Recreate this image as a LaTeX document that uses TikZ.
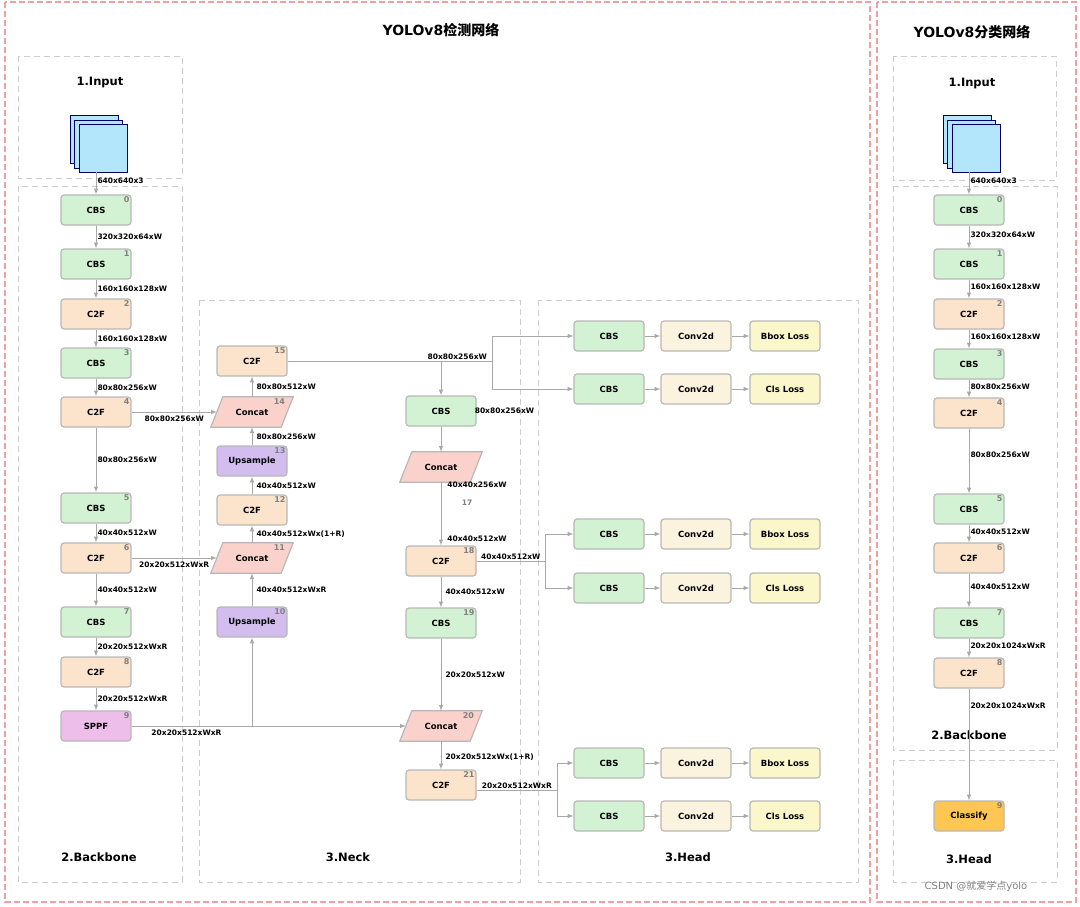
\documentclass[tikz,border=0pt]{standalone}
\usepackage{fontspec}
\setmainfont{DejaVu Sans}
\newfontfamily\cjk{Noto Sans CJK SC}
\usetikzlibrary{positioning,backgrounds}
\definecolor{cbsc}{HTML}{D3F2D3}
\definecolor{c2fc}{HTML}{FCE3CC}
\definecolor{catc}{HTML}{FAD2CB}
\definecolor{upc}{HTML}{D3BDEE}
\definecolor{sppfc}{HTML}{EEBEEA}
\definecolor{convc}{HTML}{FBF3DE}
\definecolor{lossc}{HTML}{FBF7CB}
\definecolor{clsc}{HTML}{FFC654}
\definecolor{bordc}{HTML}{B8B8B8}
\definecolor{arrc}{HTML}{A8A8A8}
\definecolor{redd}{HTML}{F0A0A0}
\tikzset{
  blk/.style={draw=bordc, line width=1.2pt, rounded corners=3pt, minimum width=70pt, minimum height=30pt, font=\fontsize{8.5}{10}\selectfont\bfseries},
  cbs/.style={blk, fill=cbsc},
  c2f/.style={blk, fill=c2fc},
  ups/.style={blk, fill=upc},
  sppf/.style={blk, fill=sppfc},
  conv/.style={blk, fill=convc},
  loss/.style={blk, fill=lossc},
  cls/.style={blk, fill=clsc},
  cat/.style={minimum width=70pt, minimum height=30pt, font=\fontsize{8.5}{10}\selectfont\bfseries},
  idx/.style={label={[anchor=north east, inner sep=2pt, text=gray, font=\fontsize{8}{9}\selectfont\bfseries]north east:#1}},
  lbl/.style={font=\fontsize{7.5}{9}\selectfont\bfseries, inner sep=1pt},
  arr/.style={draw=arrc, line width=1pt, -latex},
  ln/.style={draw=arrc, line width=1pt},
  frame/.style={draw=black!20, dashed, line width=1pt, dash pattern=on 6pt off 4pt},
  rframe/.style={draw=redd, line width=1.2pt, dash pattern=on 6pt off 3pt},
  sec/.style={font=\fontsize{11.5}{13}\selectfont\bfseries},
  img/.style={draw=blue!40!black, fill=cyan!30, minimum size=48pt, inner sep=0pt},
}
\begin{document}
\begin{tikzpicture}[x=1pt,y=-1pt]
\useasboundingbox (0,0) rectangle (1080,906);

%frames
\draw[rframe] (5,2) rectangle (870,902);
\draw[rframe] (877,2) rectangle (1076,902);
\draw[frame] (18,56) rectangle (182,178);
\draw[frame] (18,186) rectangle (182,882);
\draw[frame] (199,300) rectangle (520,882);
\draw[frame] (538,300) rectangle (858,882);
\draw[frame] (893,56) rectangle (1056,180);
\draw[frame] (893,186) rectangle (1057,750);
\draw[frame] (893,760) rectangle (1057,882);

%titles
\node[font=\fontsize{14}{16}\selectfont\bfseries] at (441,30) {YOLOv8{\cjk 检测网络}};
\node[font=\fontsize{14}{16}\selectfont\bfseries] at (972,32) {YOLOv8{\cjk 分类网络}};
\node[sec] at (100,82) {1.Input};
\node[sec] at (99,857) {2.Backbone};
\node[sec] at (348,857) {3.Neck};
\node[sec] at (688,857) {3.Head};
\node[sec] at (972,83) {1.Input};
\node[sec] at (969,735) {2.Backbone};
\node[sec] at (969,859) {3.Head};
\node[text=gray, font=\fontsize{10}{12}\selectfont] at (976,886) {CSDN @{\cjk 就爱学点}yolo};

%input images
\node[img] (in1) at (94,139) {};
\node[img] (in2) at (98,144) {};
\node[img] (in3) at (103,148) {};
\node[img] (rin1) at (967,139) {};
\node[img] (rin2) at (971,144) {};
\node[img] (rin3) at (976,148) {};

%backbone
\node[cbs,idx=0] (b0) at (96,210) {CBS};
\node[cbs,idx=1] (b1) at (96,264) {CBS};
\node[c2f,idx=2] (b2) at (96,314) {C2F};
\node[cbs,idx=3] (b3) at (96,363) {CBS};
\node[c2f,idx=4] (b4) at (96,412) {C2F};
\node[cbs,idx=5] (b5) at (96,508) {CBS};
\node[c2f,idx=6] (b6) at (96,558) {C2F};
\node[cbs,idx=7] (b7) at (96,622) {CBS};
\node[c2f,idx=8] (b8) at (96,672) {C2F};
\node[sppf,idx=9] (b9) at (96,726) {SPPF};

%neck
\node[c2f,idx=15] (n15) at (252,361) {C2F};
\node[cat,idx=14] (n14) at (252,412) {Concat};
\node[ups,idx=13] (n13) at (252,461) {Upsample};
\node[c2f,idx=12] (n12) at (252,510) {C2F};
\node[cat,idx=11] (n11) at (252,558) {Concat};
\node[ups,idx=10] (n10) at (252,622) {Upsample};
\node[cbs] (n16) at (441,411) {CBS};
\node[cat] (n17) at (441,467) {Concat};
\node[c2f,idx=18] (n18) at (441,561) {C2F};
\node[cbs,idx=19] (n19) at (441,623) {CBS};
\node[cat,idx=20] (n20) at (441,726) {Concat};
\node[c2f,idx=21] (n21) at (441,785) {C2F};
\begin{scope}[on background layer]
\foreach \n in {n11,n14,n17,n20}
  \draw[draw=bordc, line width=1.2pt, fill=catc] ([xshift=6pt]\n.north west) -- ([xshift=6pt]\n.north east) -- ([xshift=-6pt]\n.south east) -- ([xshift=-6pt]\n.south west) -- cycle;
\end{scope}

%head
\foreach \r/\y/\t in {1/336/Bbox Loss,2/389/Cls Loss,3/534/Bbox Loss,4/588/Cls Loss,5/763/Bbox Loss,6/816/Cls Loss}{
  \node[cbs] (h\r a) at (609,\y) {CBS};
  \node[conv] (h\r b) at (696,\y) {Conv2d};
  \node[loss] (h\r c) at (785,\y) {\t};
  \draw[arr] (h\r a) -- (h\r b);
  \draw[arr] (h\r b) -- (h\r c);
}

%classification net
\node[cbs,idx=0] (r0) at (969,210) {CBS};
\node[cbs,idx=1] (r1) at (969,264) {CBS};
\node[c2f,idx=2] (r2) at (969,314) {C2F};
\node[cbs,idx=3] (r3) at (969,364) {CBS};
\node[c2f,idx=4] (r4) at (969,413) {C2F};
\node[cbs,idx=5] (r5) at (969,509) {CBS};
\node[c2f,idx=6] (r6) at (969,558) {C2F};
\node[cbs,idx=7] (r7) at (969,623) {CBS};
\node[c2f,idx=8] (r8) at (969,673) {C2F};
\node[cls,idx=9] (r9) at (969,816) {Classify};

%backbone connectors
\draw[arr] (in3.south -| b0) -- node[lbl,right,pos=0.4]{640x640x3} (b0);
\draw[arr] (rin3.south -| r0) -- node[lbl,right,pos=0.4]{640x640x3} (r0);
\foreach \p/\q/\t in {0/1/320x320x64xW,1/2/160x160x128xW,2/3/160x160x128xW,3/4/80x80x256xW,4/5/80x80x256xW,5/6/40x40x512xW,6/7/40x40x512xW,7/8/20x20x512xWxR,8/9/20x20x512xWxR}
  \draw[arr] (b\p) -- node[lbl,right]{\t} (b\q);
\foreach \p/\q/\t in {0/1/320x320x64xW,1/2/160x160x128xW,2/3/160x160x128xW,3/4/80x80x256xW,4/5/80x80x256xW,5/6/40x40x512xW,6/7/40x40x512xW,7/8/20x20x1024xWxR}
  \draw[arr] (r\p) -- node[lbl,right,pos=0.4]{\t} (r\q);
\draw[arr] (r8) -- node[lbl,right,pos=0.15]{20x20x1024xWxR} (r9);

%neck connectors
\draw[arr] (b4) -- node[lbl,below=2pt,pos=0.5]{80x80x256xW} (n14.west);
\draw[arr] (b6) -- node[lbl,below=2pt,pos=0.5]{20x20x512xWxR} (n11.west);
\draw[arr] (b9) -- node[lbl,below=2pt,pos=0.2]{20x20x512xWxR} (n20.west);
\coordinate (j10) at (n10 |- b9);
\draw[arr] (j10) -- (n10);
\draw[arr] (n10) -- node[lbl,right=3pt]{40x40x512xWxR} (n11);
\draw[arr] (n11) -- node[lbl,right=3pt]{40x40x512xWx(1+R)} (n12);
\draw[arr] (n12) -- node[lbl,right=3pt]{40x40x512xW} (n13);
\draw[arr] (n13) -- node[lbl,right=3pt]{80x80x256xW} (n14);
\draw[arr] (n14) -- node[lbl,right=3pt]{80x80x512xW} (n15);
\coordinate (s15) at (492,361);
\draw[ln] (n15) -- node[lbl,above,pos=0.83]{80x80x256xW} (s15);
\draw[arr] (n15 -| n16) -- (n16);
\draw[arr] (s15) |- (h1a);
\draw[arr] (s15) |- (h2a);
\node[lbl,right=-3pt] at (n16.east) {80x80x256xW};
\draw[arr] (n16) -- (n17);
\draw[arr] (n17) -- (n18);
\node[lbl] at (477,485) {40x40x256xW};
\node[lbl,text=gray] at (467,503) {17};
\node[lbl] at (477,539) {40x40x512xW};
\coordinate (s18) at (545,561);
\draw[ln] (n18) -- node[lbl,above]{40x40x512xW} (s18);
\draw[arr] (s18) |- (h3a);
\draw[arr] (s18) |- (h4a);
\draw[arr] (n18) -- node[lbl,right=3pt]{40x40x512xW} (n19);
\draw[arr] (n19) -- node[lbl,right=3pt]{20x20x512xW} (n20);
\draw[arr] (n20) -- node[lbl,right=3pt,pos=0.55]{20x20x512xWx(1+R)} (n21);
\coordinate (s21) at (557,790);
\draw[ln] (n21.east |- s21) -- node[lbl,above]{20x20x512xWxR} (s21);
\draw[arr] (s21) |- (h5a);
\draw[arr] (s21) |- (h6a);
\end{tikzpicture}
\end{document}
